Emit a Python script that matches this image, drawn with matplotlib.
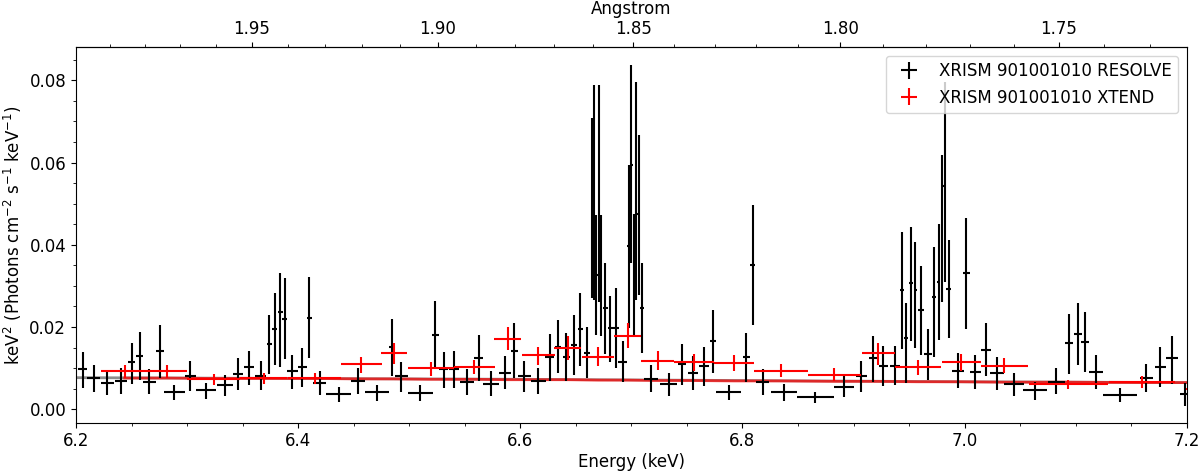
import numpy as np
import matplotlib
matplotlib.use("Agg")
import matplotlib.pyplot as plt
from matplotlib.ticker import MultipleLocator, FixedLocator

# ---------------- data ----------------
res_E = [6.2061, 6.2160, 6.2281, 6.2407, 6.2500, 6.2572, 6.2662, 6.2754, 6.2884, 6.3031,
         6.3175, 6.3339, 6.3460, 6.3559, 6.3663, 6.3742, 6.3789, 6.3838, 6.3879, 6.3949,
         6.4039, 6.4102, 6.4194, 6.4365, 6.4540, 6.4711, 6.4846, 6.4930, 6.5101, 6.5236,
         6.5311, 6.5401, 6.5521, 6.5626, 6.5737, 6.5860, 6.5947, 6.6037, 6.6160, 6.6265,
         6.6340, 6.6415, 6.6484, 6.6541, 6.6601, 6.6646, 6.6661, 6.6685, 6.6706, 6.6727,
         6.6766, 6.6811, 6.6862, 6.6922, 6.6976, 6.7000, 6.7027, 6.7045, 6.7066, 6.7096,
         6.7177, 6.7336, 6.7456, 6.7555, 6.7657, 6.7735, 6.7876, 6.8035, 6.8092, 6.8182,
         6.8371, 6.8656, 6.8911, 6.9070, 6.9175, 6.9269, 6.9371, 6.9436, 6.9472, 6.9517,
         6.9556, 6.9607, 6.9667, 6.9727, 6.9766, 6.9797, 6.9820, 6.9856, 6.9938, 7.0016,
         7.0097, 7.0193, 7.0292, 7.0442, 7.0637, 7.0826, 7.0943, 7.1018, 7.1087, 7.1183,
         7.1401, 7.1636, 7.1762, 7.1867, 7.1987]
res_val = [0.0098, 0.0076, 0.0064, 0.0070, 0.0114, 0.0130, 0.0067, 0.0142, 0.0042, 0.0081,
           0.0047, 0.0059, 0.0086, 0.0102, 0.0082, 0.0158, 0.0196, 0.0236, 0.0220, 0.0092,
           0.0102, 0.0223, 0.0065, 0.0037, 0.0070, 0.0041, 0.0151, 0.0080, 0.0039, 0.0181,
           0.0098, 0.0098, 0.0067, 0.0126, 0.0062, 0.0089, 0.0143, 0.0080, 0.0070, 0.0127,
           0.0151, 0.0128, 0.0157, 0.0195, 0.0137, 0.0490, 0.0525, 0.0326, 0.0525, 0.0326,
           0.0246, 0.0197, 0.0197, 0.0116, 0.0397, 0.0595, 0.0331, 0.0530, 0.0476, 0.0247,
           0.0074, 0.0062, 0.0110, 0.0089, 0.0106, 0.0167, 0.0041, 0.0128, 0.0351, 0.0067,
           0.0042, 0.0030, 0.0055, 0.0081, 0.0124, 0.0106, 0.0106, 0.0290, 0.0174, 0.0306,
           0.0290, 0.0242, 0.0134, 0.0274, 0.0310, 0.0440, 0.0542, 0.0292, 0.0093, 0.0331,
           0.0090, 0.0144, 0.0088, 0.0061, 0.0046, 0.0067, 0.0161, 0.0183, 0.0163, 0.0090,
           0.0035, 0.0076, 0.0104, 0.0124, 0.0037]
res_lo = [0.0051, 0.0041, 0.0035, 0.0038, 0.0062, 0.0072, 0.0038, 0.0076, 0.0023, 0.0045,
          0.0025, 0.0033, 0.0047, 0.0059, 0.0046, 0.0086, 0.0108, 0.0104, 0.0122, 0.0050,
          0.0055, 0.0124, 0.0035, 0.0019, 0.0038, 0.0021, 0.0082, 0.0042, 0.0021, 0.0098,
          0.0053, 0.0053, 0.0035, 0.0069, 0.0033, 0.0049, 0.0077, 0.0042, 0.0037, 0.0070,
          0.0088, 0.0070, 0.0084, 0.0106, 0.0076, 0.0270, 0.0266, 0.0181, 0.0262, 0.0178,
          0.0135, 0.0116, 0.0100, 0.0067, 0.0197, 0.0355, 0.0180, 0.0266, 0.0278, 0.0136,
          0.0042, 0.0033, 0.0059, 0.0047, 0.0057, 0.0089, 0.0023, 0.0067, 0.0205, 0.0035,
          0.0021, 0.0015, 0.0030, 0.0043, 0.0067, 0.0057, 0.0058, 0.0146, 0.0065, 0.0167,
          0.0149, 0.0132, 0.0072, 0.0128, 0.0169, 0.0262, 0.0310, 0.0173, 0.0051, 0.0195,
          0.0049, 0.0080, 0.0047, 0.0033, 0.0023, 0.0037, 0.0086, 0.0108, 0.0090, 0.0050,
          0.0017, 0.0041, 0.0055, 0.0062, 0.0008]
res_hi = [0.0140, 0.0108, 0.0092, 0.0100, 0.0162, 0.0188, 0.0098, 0.0205, 0.0059, 0.0118,
          0.0065, 0.0084, 0.0124, 0.0143, 0.0118, 0.0229, 0.0283, 0.0331, 0.0320, 0.0132,
          0.0149, 0.0322, 0.0092, 0.0054, 0.0101, 0.0059, 0.0219, 0.0116, 0.0058, 0.0264,
          0.0140, 0.0142, 0.0098, 0.0181, 0.0092, 0.0130, 0.0209, 0.0118, 0.0101, 0.0183,
          0.0216, 0.0185, 0.0229, 0.0282, 0.0201, 0.0708, 0.0788, 0.0472, 0.0788, 0.0472,
          0.0355, 0.0276, 0.0294, 0.0165, 0.0593, 0.0836, 0.0476, 0.0795, 0.0668, 0.0356,
          0.0108, 0.0088, 0.0159, 0.0130, 0.0152, 0.0242, 0.0059, 0.0185, 0.0496, 0.0098,
          0.0061, 0.0043, 0.0080, 0.0118, 0.0178, 0.0153, 0.0155, 0.0432, 0.0259, 0.0444,
          0.0407, 0.0348, 0.0195, 0.0394, 0.0450, 0.0618, 0.0795, 0.0411, 0.0136, 0.0464,
          0.0132, 0.0211, 0.0128, 0.0088, 0.0067, 0.0100, 0.0232, 0.0258, 0.0237, 0.0131,
          0.0051, 0.0110, 0.0152, 0.0179, 0.0064]
res_xerr = [0.0042, 0.0060, 0.0060, 0.0055, 0.0035, 0.0035, 0.0058, 0.0035, 0.0095, 0.0050,
            0.0090, 0.0073, 0.0048, 0.0048, 0.0051, 0.0025, 0.0023, 0.0022, 0.0022, 0.0048,
            0.0038, 0.0025, 0.0060, 0.0110, 0.0060, 0.0110, 0.0030, 0.0055, 0.0110, 0.0030,
            0.0040, 0.0045, 0.0066, 0.0040, 0.0072, 0.0053, 0.0030, 0.0055, 0.0068, 0.0040,
            0.0030, 0.0035, 0.0030, 0.0025, 0.0030, 0.0008, 0.0008, 0.0012, 0.0010, 0.0012,
            0.0020, 0.0025, 0.0025, 0.0040, 0.0012, 0.0012, 0.0012, 0.0010, 0.0012, 0.0018,
            0.0066, 0.0078, 0.0040, 0.0045, 0.0045, 0.0030, 0.0110, 0.0030, 0.0020, 0.0060,
            0.0116, 0.0165, 0.0090, 0.0050, 0.0040, 0.0040, 0.0045, 0.0015, 0.0015, 0.0015,
            0.0015, 0.0025, 0.0035, 0.0018, 0.0015, 0.0012, 0.0012, 0.0020, 0.0053, 0.0030,
            0.0050, 0.0045, 0.0060, 0.0090, 0.0108, 0.0080, 0.0035, 0.0035, 0.0035, 0.0060,
            0.0153, 0.0060, 0.0050, 0.0050, 0.0050]

xt_E = [6.2439, 6.2821, 6.3240, 6.3690, 6.4149, 6.4567, 6.4861, 6.5197, 6.5587, 6.5887,
        6.6160, 6.6427, 6.6700, 6.6967, 6.7237, 6.7561, 6.7927, 6.8347, 6.8827, 6.9221,
        6.9581, 6.9968, 7.0357, 7.0931, 7.1597, 7.2350]
xt_val = [0.0094, 0.0094, 0.0074, 0.0077, 0.0076, 0.0109, 0.0136, 0.0100, 0.0104, 0.0172,
          0.0131, 0.0150, 0.0128, 0.0178, 0.0118, 0.0115, 0.0112, 0.0094, 0.0084, 0.0136,
          0.0102, 0.0114, 0.0106, 0.0061, 0.0066, 0.0049]
xt_lo = [0.0076, 0.0076, 0.0059, 0.0062, 0.0062, 0.0089, 0.0110, 0.0082, 0.0085, 0.0144,
         0.0108, 0.0120, 0.0106, 0.0149, 0.0096, 0.0094, 0.0093, 0.0078, 0.0070, 0.0108,
         0.0084, 0.0094, 0.0088, 0.0050, 0.0053, 0.0040]
xt_hi = [0.0108, 0.0108, 0.0086, 0.0089, 0.0088, 0.0128, 0.0162, 0.0114, 0.0120, 0.0201,
         0.0152, 0.0178, 0.0151, 0.0209, 0.0143, 0.0135, 0.0132, 0.0110, 0.0100, 0.0162,
         0.0120, 0.0135, 0.0124, 0.0072, 0.0081, 0.0058]
xt_xerr = [0.0210, 0.0176, 0.0240, 0.0210, 0.0240, 0.0185, 0.0118, 0.0207, 0.0183, 0.0120,
           0.0149, 0.0120, 0.0147, 0.0119, 0.0150, 0.0180, 0.0180, 0.0239, 0.0236, 0.0149,
           0.0209, 0.0176, 0.0210, 0.0356, 0.0297, 0.0354]
xt_model = [0.0076, 0.0076, 0.0075, 0.0075, 0.0075, 0.0074, 0.0074, 0.0073, 0.0073, 0.0072,
            0.0072, 0.0072, 0.0071, 0.0071, 0.0070, 0.0070, 0.0069, 0.0069, 0.0068, 0.0068,
            0.0067, 0.0067, 0.0066, 0.0066, 0.0065, 0.0065]

res_model_E = [6.2, 6.4, 6.6, 6.8, 7.0, 7.2]
res_model = [0.0077, 0.0075, 0.0073, 0.0070, 0.0067, 0.0065]

ang_major = [1.75, 1.80, 1.85, 1.90, 1.95]
ang_minor = [1.73, 1.74, 1.76, 1.77, 1.78, 1.79, 1.81, 1.82, 1.83, 1.84, 1.86, 1.87,
             1.88, 1.89, 1.91, 1.92, 1.93, 1.94, 1.96, 1.97, 1.98, 1.99]

HC = 12.39842  # keV * Angstrom

# ---------------- plot ----------------
plt.rcParams['font.family'] = ['DejaVu Sans']
fig = plt.figure(figsize=(12, 4.75), dpi=100)
ax = fig.add_axes([0.0633, 0.110, 0.9257, 0.7904])

rv = np.array(res_val)
ryerr = [rv - np.array(res_lo), np.array(res_hi) - rv]
xv = np.array(xt_val)
xyerr = [xv - np.array(xt_lo), np.array(xt_hi) - xv]

ax.plot(res_model_E, res_model, color='black', lw=2, alpha=0.45, zorder=1)
ax.plot(xt_E, xt_model, color='red', lw=2, alpha=0.7, zorder=1.5)

ax.errorbar(res_E, res_val, xerr=res_xerr, yerr=ryerr, fmt='none', ecolor='black',
            elinewidth=1.5, label='XRISM 901001010 RESOLVE', zorder=2)
ax.errorbar(xt_E, xt_val, xerr=xt_xerr, yerr=xyerr, fmt='none', ecolor='red',
            elinewidth=1.5, label='XRISM 901001010 XTEND', zorder=3)

ax.set_xlim(6.2, 7.2)
ax.set_ylim(-0.00326, 0.0880)
ax.xaxis.set_major_locator(MultipleLocator(0.2))
ax.xaxis.set_minor_locator(MultipleLocator(0.05))
ax.yaxis.set_major_locator(MultipleLocator(0.02))
ax.yaxis.set_minor_locator(MultipleLocator(0.005))
ax.tick_params(labelsize=12)
ax.set_xlabel('Energy (keV)', fontsize=12, labelpad=2)
ax.set_ylabel('keV$^2$ (Photons cm$^{-2}$ s$^{-1}$ keV$^{-1}$)', fontsize=12)

sec = ax.secondary_xaxis('top', functions=(lambda e: HC / np.asarray(e, dtype=float),
                                           lambda a: HC / np.asarray(a, dtype=float)))
sec.xaxis.set_major_locator(FixedLocator(ang_major))
sec.xaxis.set_minor_locator(FixedLocator(ang_minor))
sec.set_xticklabels([f"{a:.2f}" for a in ang_major])
sec.tick_params(labelsize=12)
sec.set_xlabel('Angstrom', fontsize=12, labelpad=4)

ax.legend(loc='upper right', fontsize=12)

fig.savefig('out.png', dpi=100)
